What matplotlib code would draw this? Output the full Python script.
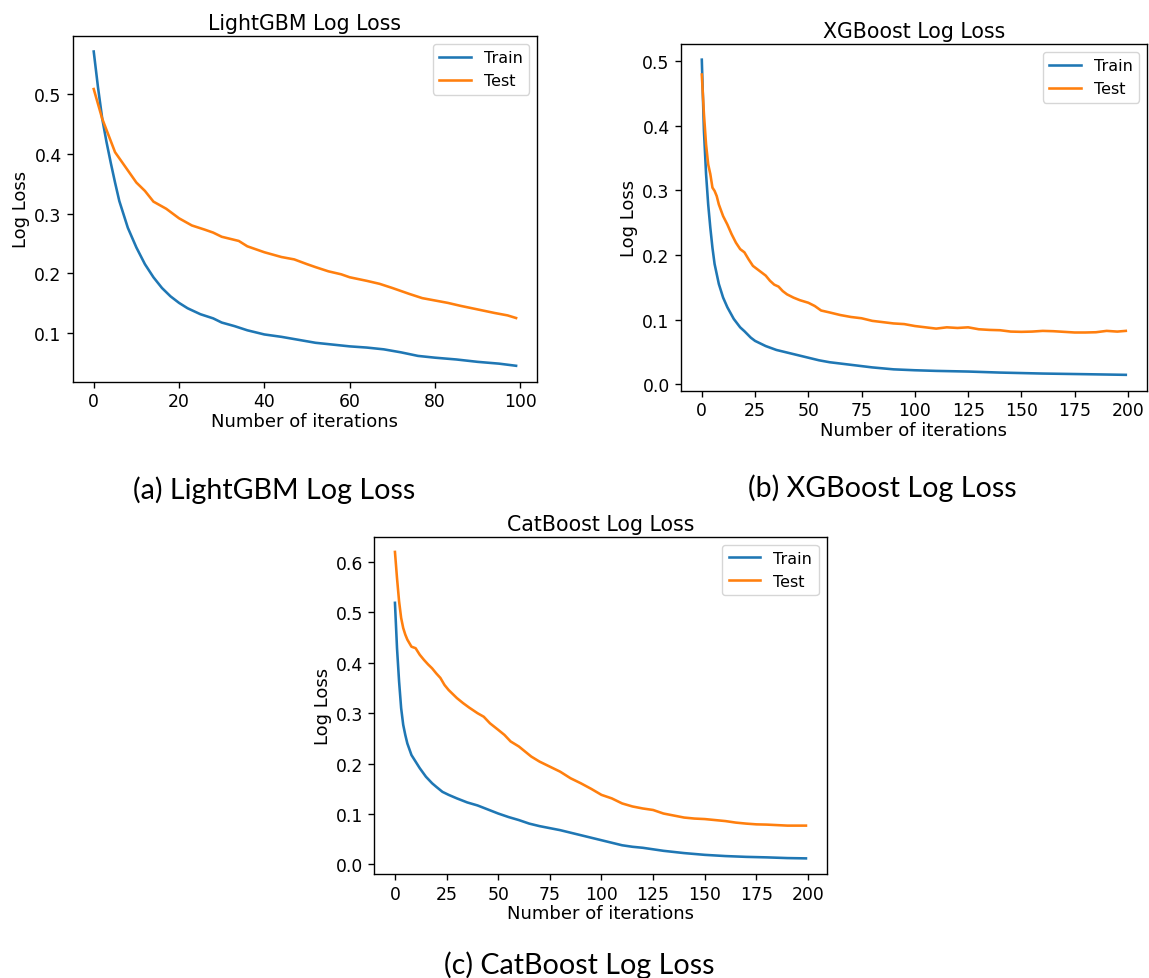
import matplotlib
matplotlib.use("Agg")
import matplotlib.pyplot as plt
from matplotlib import ticker

# ---- LightGBM (100 iterations) ----
lgb_train_x = [0, 1, 2, 3, 4, 5, 6, 8, 10, 12, 14, 16, 18, 20, 22, 25, 28, 30, 33, 36,
               40, 44, 48, 52, 56, 60, 64, 68, 72, 76, 80, 85, 90, 95, 99]
lgb_train_y = [0.572, 0.512, 0.459, 0.420, 0.385, 0.352, 0.321, 0.276, 0.243, 0.215,
               0.193, 0.175, 0.161, 0.150, 0.141, 0.131, 0.124, 0.117, 0.111, 0.104,
               0.097, 0.093, 0.088, 0.083, 0.080, 0.077, 0.075, 0.072, 0.067, 0.061,
               0.058, 0.055, 0.051, 0.048, 0.0444]
lgb_test_x = [0, 2, 5, 10, 12, 14, 17, 20, 23, 26, 28, 30, 34, 36, 40, 44, 47, 50, 52,
              55, 58, 60, 64, 67, 70, 74, 77, 80, 83, 86, 90, 94, 97, 99]
lgb_test_y = [0.509, 0.459, 0.403, 0.352, 0.338, 0.320, 0.308, 0.292, 0.280, 0.273,
              0.268, 0.261, 0.254, 0.245, 0.235, 0.227, 0.223, 0.215, 0.210, 0.203,
              0.198, 0.193, 0.187, 0.182, 0.175, 0.165, 0.158, 0.154, 0.150, 0.145,
              0.139, 0.133, 0.129, 0.1246]

# ---- XGBoost (200 iterations) ----
xgb_train_x = [0, 1, 2, 3, 4, 5, 6, 8, 10, 12, 15, 18, 20, 23, 25, 30, 35, 40, 45, 50,
               55, 60, 70, 80, 90, 100, 110, 125, 140, 160, 180, 199]
xgb_train_y = [0.502, 0.392, 0.325, 0.278, 0.242, 0.211, 0.186, 0.155, 0.134, 0.119,
               0.101, 0.088, 0.082, 0.072, 0.067, 0.059, 0.053, 0.049, 0.045, 0.041,
               0.037, 0.034, 0.030, 0.026, 0.023, 0.0216, 0.0206, 0.0196, 0.018,
               0.0165, 0.0155, 0.0145]
xgb_test_x = [0, 1, 2, 3, 4, 5, 6, 7, 8, 10, 12, 14, 16, 18, 20, 22, 24, 26, 28, 30, 32,
              34, 36, 38, 40, 43, 46, 50, 53, 56, 60, 65, 70, 75, 80, 85, 90, 95, 100,
              105, 110, 115, 120, 125, 130, 135, 140, 145, 150, 155, 160, 165, 170,
              175, 180, 185, 190, 195, 199]
xgb_test_y = [0.479, 0.418, 0.371, 0.340, 0.325, 0.304, 0.299, 0.291, 0.278, 0.260,
              0.247, 0.232, 0.219, 0.209, 0.204, 0.193, 0.183, 0.178, 0.173, 0.168,
              0.160, 0.154, 0.151, 0.144, 0.139, 0.134, 0.130, 0.126, 0.121, 0.114,
              0.111, 0.107, 0.104, 0.102, 0.098, 0.096, 0.094, 0.093, 0.090, 0.088,
              0.086, 0.088, 0.087, 0.088, 0.085, 0.084, 0.0835, 0.0814, 0.081, 0.0814,
              0.0825, 0.082, 0.081, 0.080, 0.080, 0.0804, 0.0825, 0.0814, 0.0825]

# ---- CatBoost (200 iterations) ----
cat_train_x = [0, 1, 2, 3, 4, 5, 6, 8, 10, 12, 15, 18, 20, 23, 26, 30, 35, 40, 45, 50,
               55, 60, 65, 70, 75, 80, 85, 90, 95, 100, 105, 110, 115, 120, 125, 130,
               140, 150, 160, 170, 180, 190, 199]
cat_train_y = [0.519, 0.429, 0.363, 0.310, 0.277, 0.257, 0.240, 0.217, 0.204, 0.191,
               0.174, 0.161, 0.154, 0.144, 0.138, 0.131, 0.123, 0.117, 0.109, 0.101,
               0.094, 0.088, 0.081, 0.076, 0.072, 0.068, 0.063, 0.058, 0.053, 0.048,
               0.043, 0.038, 0.035, 0.033, 0.030, 0.027, 0.0225, 0.019, 0.0166, 0.015,
               0.014, 0.0126, 0.012]
cat_test_x = [0, 1, 2, 3, 4, 5, 6, 8, 10, 12, 14, 16, 18, 20, 22, 24, 26, 28, 30, 33,
              36, 40, 43, 46, 50, 53, 56, 60, 63, 66, 70, 75, 80, 85, 90, 95, 100, 105,
              110, 115, 120, 125, 130, 135, 140, 145, 150, 155, 160, 165, 170, 175,
              180, 190, 199]
cat_test_y = [0.620, 0.568, 0.522, 0.489, 0.469, 0.456, 0.446, 0.432, 0.429, 0.416,
              0.406, 0.397, 0.389, 0.379, 0.370, 0.356, 0.346, 0.338, 0.330, 0.320,
              0.311, 0.300, 0.293, 0.280, 0.267, 0.257, 0.244, 0.234, 0.224, 0.214,
              0.204, 0.194, 0.184, 0.171, 0.161, 0.150, 0.138, 0.131, 0.121, 0.115,
              0.111, 0.108, 0.101, 0.097, 0.093, 0.091, 0.090, 0.088, 0.086, 0.083,
              0.081, 0.0795, 0.079, 0.077, 0.077]

W, H = 1149, 979
S = 1.24  # pixel scale of the original figure relative to dpi 100

plt.rcParams.update({
    "axes.titlesize": 14.8,
    "axes.labelsize": 13,
    "xtick.labelsize": 12.4,
    "ytick.labelsize": 12.4,
    "legend.fontsize": 11.5,
    "lines.linewidth": 1.5 * S,
    "axes.linewidth": 0.8 * S,
    "xtick.major.size": 3.5 * S,
    "ytick.major.size": 3.5 * S,
    "xtick.major.width": 0.8 * S,
    "ytick.major.width": 0.8 * S,
})

fig = plt.figure(figsize=(W / 100, H / 100), dpi=100)


def box(left, right, top, bottom):
    """Axes rectangle from pixel edges (y measured from the top)."""
    return [left / W, 1 - bottom / H, (right - left) / W, (bottom - top) / H]


panels = [
    ("LightGBM Log Loss", box(72.6, 537.2, 36.8, 382.5), 20,
     lgb_train_x, lgb_train_y, lgb_test_x, lgb_test_y),
    ("XGBoost Log Loss", box(680.6, 1147.0, 44.9, 391.6), 25,
     xgb_train_x, xgb_train_y, xgb_test_x, xgb_test_y),
    ("CatBoost Log Loss", box(374.4, 826.5, 537.6, 874.7), 25,
     cat_train_x, cat_train_y, cat_test_x, cat_test_y),
]

for title, rect, step, trx, tr, tex, te in panels:
    ax = fig.add_axes(rect)
    ax.plot(trx, tr, color="#1f77b4", label="Train")
    ax.plot(tex, te, color="#ff7f0e", label="Test")
    ax.xaxis.set_major_locator(ticker.MultipleLocator(step))
    ax.set_title(title, pad=5)
    ax.set_xlabel("Number of iterations", labelpad=1)
    ax.set_ylabel("Log Loss", labelpad=3)
    ax.legend(loc="upper right")

cap_font = ["Lato", "DejaVu Sans"]
fig.text(274.5 / W, 1 - 490.5 / H, "(a) LightGBM Log Loss", ha="center", va="center",
         fontsize=20.6, family=cap_font)
fig.text(882.8 / W, 1 - 488 / H, "(b) XGBoost Log Loss", ha="center", va="center",
         fontsize=20.6, family=cap_font)
fig.text(579.5 / W, 1 - 965 / H, "(c) CatBoost Log Loss", ha="center", va="center",
         fontsize=20.6, family=cap_font)

fig.savefig("out.png", dpi=100)
